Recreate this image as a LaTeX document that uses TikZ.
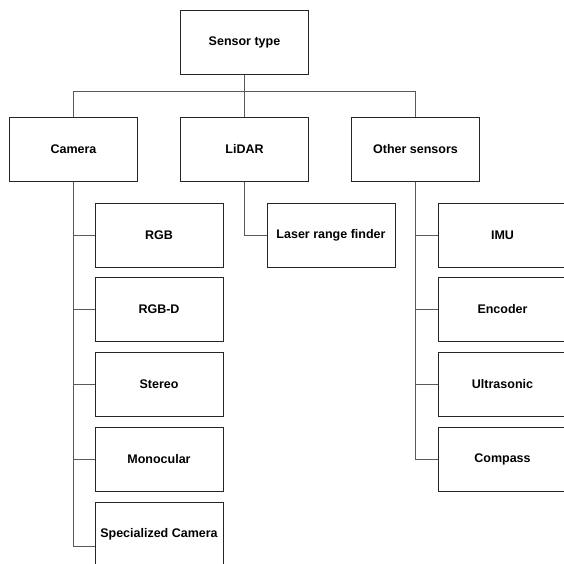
\documentclass[tikz,border=0pt]{standalone}
\usepackage{fontspec}
\setmainfont{Liberation Sans}
\usepackage{tikz}

\begin{document}
\begin{tikzpicture}[x=1pt,y=-1pt,
  boite/.style={draw=black!85, line width=1pt, fill=white, minimum width=128pt, minimum height=64pt, inner sep=0pt, font=\fontsize{12.5}{15}\selectfont\bfseries},
  lien/.style={draw=black!65, line width=1pt}]
\useasboundingbox (0,0) rectangle (564,563);
\clip (0,0) rectangle (564,563);
% top
\node[boite] (sensor) at (244.5,42) {Sensor type};
\node[boite] (camera) at (73.5,149) {Camera};
\node[boite] (lidar) at (244.5,149) {LiDAR};
\node[boite] (other) at (415.5,149) {Other sensors};
% camera kinds
\node[boite] (rgb) at (159,235) {RGB};
\node[boite] (rgbd) at (159,309.5) {RGB-D};
\node[boite] (stereo) at (159,384.5) {Stereo};
\node[boite] (mono) at (159,459.5) {Monocular};
\node[boite] (spec) at (159,534) {Specialized Camera};
% lidar
\node[boite] (laser) at (331,235) {Laser range finder};
% other sensors
\node[boite] (imu) at (502.5,235) {IMU};
\node[boite] (encoder) at (502.5,309.5) {Encoder};
\node[boite] (ultra) at (502.5,384.5) {Ultrasonic};
\node[boite] (compass) at (502.5,459.5) {Compass};

\draw[lien] (sensor) -- (lidar);
\draw[lien] (camera.north) -- ++(0,-25) -| (other.north);
\foreach \n in {rgb,rgbd,stereo,mono} \draw[lien] (camera.south) |- (\n.west);
\draw[lien] (camera.south) |- ([yshift=-12pt]spec.west);
\draw[lien] (lidar.south) |- (laser.west);
\foreach \n in {imu,encoder,ultra,compass} \draw[lien] (other.south) |- (\n.west);

\end{tikzpicture}
\end{document}
